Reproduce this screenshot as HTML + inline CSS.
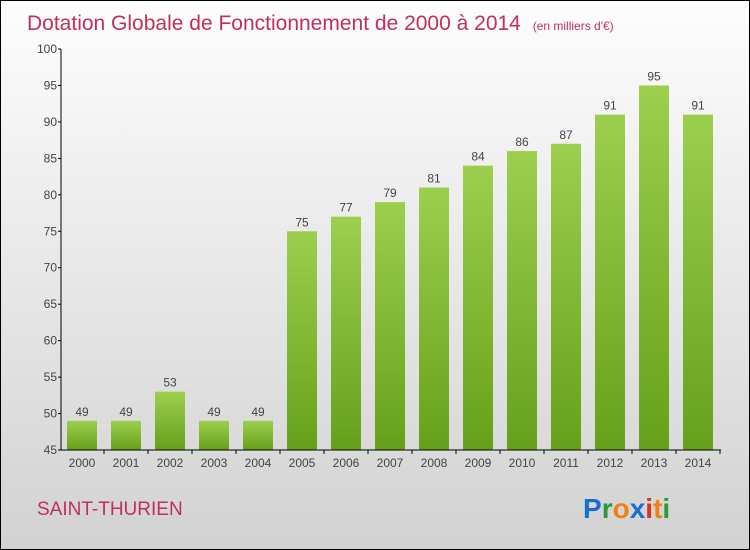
<!DOCTYPE html>
<html><head><meta charset="utf-8"><style>
body{margin:0}
#c{position:relative;width:748px;height:548px;border:1px solid #000;background:linear-gradient(#fdfdfd,#f0f0f0 30%,#d2d2d2);font-family:"Liberation Sans",sans-serif;overflow:hidden}
svg{position:absolute;left:0;top:0}
</style></head><body>
<div id="c">
<svg width="748" height="548">
<defs><linearGradient id="g" x1="0" y1="0" x2="0" y2="1"><stop offset="0" stop-color="#9ccf4e"/><stop offset="1" stop-color="#66a01a"/></linearGradient></defs>
<text x="26" y="29" font-size="21" fill="#c0305a">Dotation Globale de Fonctionnement de 2000 à 2014 <tspan font-size="12" dx="6">(en milliers d'€)</tspan></text>
<g id="bars"></g>
<g id="axes"></g>
<text x="36" y="514" font-size="19" fill="#c0305a">SAINT-THURIEN</text>
<text x="582" y="517" font-size="28" font-weight="bold"><tspan fill="#1a6ed0">P</tspan><tspan fill="#2a9a3a">r</tspan><tspan fill="#f08010">o</tspan><tspan fill="#1a6ed0">x</tspan><tspan fill="#e03020">i</tspan><tspan fill="#f08010">t</tspan><tspan fill="#2a9a3a">i</tspan></text>
</svg></div>
<script>
const years=["2000","2001","2002","2003","2004","2005","2006","2007","2008","2009","2010","2011","2012","2013","2014"];
const values=[49,49,53,49,49,75,77,79,81,84,86,87,91,95,91];
const yTicks=[45,50,55,60,65,70,75,80,85,90,95,100];
const NS="http://www.w3.org/2000/svg";
const y=v=>449-(v-45)*(401/55);
const x=i=>81+44*i;
function el(t,a,p){const e=document.createElementNS(NS,t);for(const k in a)e.setAttribute(k,a[k]);p.appendChild(e);return e;}
const bars=document.getElementById('bars'),axes=document.getElementById('axes');
values.forEach((v,i)=>{
 const r=el('rect',{x:x(i)-15,y:y(v),width:30,height:y(45)-y(v),fill:'url(#g)'},bars);
 
 
 const t=el('text',{x:x(i),y:y(v)-5,'text-anchor':'middle','font-size':12,fill:'#444'},bars);
 t.textContent=v;
 
 
 const xl=el('text',{x:x(i),y:466,'text-anchor':'middle','font-size':12,fill:'#444'},axes);
 xl.textContent=years[i];
 
 
 el('line',{x1:x(i)+22,x2:x(i)+22,y1:449,y2:453,stroke:'#000'},axes);
});
const ax=el('path',{d:'M60 48V449H720',stroke:'#000',fill:'none'},axes);


yTicks.forEach(v=>{
 el('line',{x1:57,x2:60,y1:y(v),y2:y(v),stroke:'#000'},axes);
 const t=el('text',{x:56,y:y(v)+4,'text-anchor':'end','font-size':12,fill:'#444'},axes);
 t.textContent=v;
 
 
});
</script></body></html>
